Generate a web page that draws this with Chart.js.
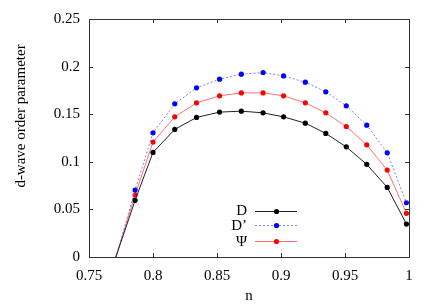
<!DOCTYPE html>
<html>
<head>
<meta charset="utf-8">
<style>
html,body{margin:0;padding:0;background:#fff;}
canvas{display:block;}
</style>
<script src="https://cdn.jsdelivr.net/npm/chart.js@4/dist/chart.umd.min.js"></script>
</head>
<body>
<canvas id="c" width="436" height="305"></canvas>
<script>
// ---- data ----
const nValues = [0.771, 0.786, 0.800, 0.817, 0.834, 0.852, 0.869, 0.886, 0.902, 0.919, 0.935, 0.951, 0.967, 0.983, 0.998];
const seriesD      = [0, 0.0595, 0.1099, 0.1340, 0.1466, 0.1522, 0.1532, 0.1514, 0.1472, 0.1406, 0.1298, 0.1157, 0.0973, 0.0731, 0.0346];
const seriesDprime = [0, 0.0703, 0.1304, 0.1609, 0.1777, 0.1868, 0.1920, 0.1938, 0.1902, 0.1836, 0.1735, 0.1588, 0.1385, 0.1094, 0.0570];
const seriesPsi    = [0, 0.0651, 0.1207, 0.1472, 0.1619, 0.1693, 0.1724, 0.1724, 0.1693, 0.1619, 0.1514, 0.1371, 0.1178, 0.0913, 0.0459];
const xTicks = [0.75, 0.8, 0.85, 0.9, 0.95, 1];
const yTicks = [0, 0.05, 0.1, 0.15, 0.2, 0.25];
const seriesLabels = ['D', 'D\u2019', '\u03A8'];
const xTitle = 'n';
const yTitle = 'd-wave order parameter';

function pts(ys){ return nValues.map((x,i)=>({x:x, y:ys[i]})); }
const radii = nValues.map((x,i)=> i===0 ? 0 : 2.6);
const fmt = v => String(parseFloat(Number(v).toFixed(4)));

const serif = '"Liberation Serif", "Times New Roman", serif';

const datasets = [
  {label: seriesLabels[0], data: pts(seriesD), borderColor:'#222', borderWidth:1,
   pointBackgroundColor:'#000', pointBorderColor:'#000', pointRadius:radii, pointBorderWidth:0, markColor:'#000'},
  {label: seriesLabels[1], data: pts(seriesDprime), borderColor:'#7f7fff', borderWidth:1, borderDash:[2,2],
   pointBackgroundColor:'#0000ff', pointBorderColor:'#0000ff', pointRadius:radii, pointBorderWidth:0, markColor:'#0000ff'},
  {label: seriesLabels[2], data: pts(seriesPsi), borderColor:'#ff7070', borderWidth:1,
   pointBackgroundColor:'#ff0000', pointBorderColor:'#ff0000', pointRadius:radii, pointBorderWidth:0, markColor:'#ff0000'}
];

const framePlugin = {
  id:'frame',
  afterDraw(chart){
    const ctx = chart.ctx, a = chart.chartArea;
    const xs = chart.scales.x, ys = chart.scales.y;
    ctx.save();
    ctx.strokeStyle = '#333';
    ctx.lineWidth = 1;
    ctx.strokeRect(Math.round(a.left)+0.5, Math.round(a.top)+0.5, Math.round(a.right-a.left), Math.round(a.bottom-a.top));
    const tl = 4;
    ctx.beginPath();
    xTicks.forEach(v=>{
      const p = Math.round(xs.getPixelForValue(v))+0.5;
      ctx.moveTo(p, a.bottom); ctx.lineTo(p, a.bottom-tl);
      ctx.moveTo(p, a.top); ctx.lineTo(p, a.top+tl);
    });
    yTicks.forEach(v=>{
      const p = Math.round(ys.getPixelForValue(v))+0.5;
      ctx.moveTo(a.left, p); ctx.lineTo(a.left+tl, p);
      ctx.moveTo(a.right, p); ctx.lineTo(a.right-tl, p);
    });
    ctx.stroke();
    // y axis title
    ctx.save();
    ctx.translate(21, 116);
    ctx.rotate(-Math.PI/2);
    ctx.font = '15px ' + serif;
    ctx.fillStyle = '#000';
    ctx.textAlign = 'center';
    ctx.textBaseline = 'middle';
    ctx.fillText(yTitle, 0, 0);
    ctx.restore();
    // legend
    const rows = [210.5, 225, 241];
    ctx.font = '15px ' + serif;
    ctx.textAlign = 'right';
    ctx.textBaseline = 'middle';
    chart.data.datasets.forEach((ds,i)=>{
      const y = rows[i];
      ctx.fillStyle = '#000';
      ctx.fillText(ds.label, 247, y+1);
      ctx.beginPath();
      ctx.strokeStyle = ds.borderColor;
      ctx.lineWidth = 1;
      ctx.setLineDash(ds.borderDash || []);
      ctx.moveTo(255, Math.round(y)+0.5); ctx.lineTo(297, Math.round(y)+0.5);
      ctx.stroke();
      ctx.setLineDash([]);
      ctx.beginPath();
      ctx.fillStyle = ds.markColor;
      ctx.arc(276.5, Math.round(y)+0.5, 2.6, 0, Math.PI*2);
      ctx.fill();
    });
    ctx.restore();
  }
};

new Chart(document.getElementById('c'), {
  type:'scatter',
  data:{datasets: datasets.map(d=>Object.assign({showLine:true, tension:0}, d))},
  options:{
    responsive:false,
    animation:false,
    events:[],
    layout:{padding:{top:19, right:27, left:0, bottom:0}},
    plugins:{legend:{display:false}, tooltip:{enabled:false}},
    scales:{
      x:{
        type:'linear', min:0.75, max:1,
        afterBuildTicks(s){ s.ticks = xTicks.map(v=>({value:v})); },
        afterFit(s){ s.height = 48; },
        grid:{display:false, drawTicks:false},
        border:{display:false},
        ticks:{color:'#000', font:{family:serif, size:15}, padding:10, maxRotation:0, autoSkip:false, callback:fmt},
        title:{display:true, text:xTitle, color:'#000', font:{family:serif, size:15}, padding:{top:0,bottom:0}}
      },
      y:{
        type:'linear', min:0, max:0.25,
        afterBuildTicks(s){ s.ticks = yTicks.map(v=>({value:v})); },
        afterFit(s){ s.width = 89; },
        grid:{display:false, drawTicks:false},
        border:{display:false},
        ticks:{color:'#000', font:{family:serif, size:15}, padding:9, autoSkip:false, callback:fmt},
        title:{display:false}
      }
    }
  },
  plugins:[framePlugin]
});
</script>
</body>
</html>
